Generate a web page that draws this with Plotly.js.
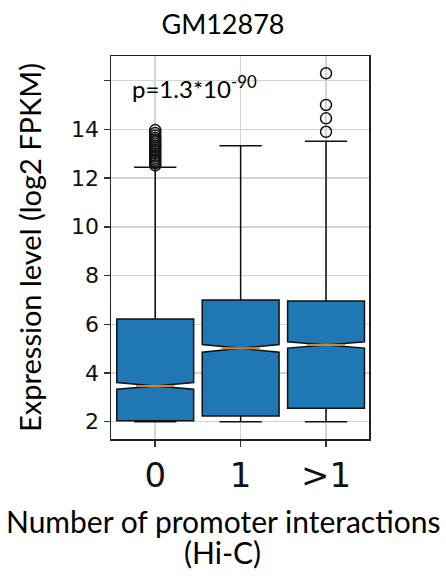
<!DOCTYPE html>
<html>
<head>
<meta charset="utf-8">
<script src="https://cdn.plot.ly/plotly-3.0.1.min.js"></script>
<style>
  html, body { margin: 0; padding: 0; background: #fff; }
  #chart { width: 446px; height: 576px; }
</style>
</head>
<body>
<div id="chart"></div>
<script>
// Expression (log2 FPKM) by number of Hi-C promoter interactions
const groups = ['0', '1', '>1'];
const groupPos = [0, 1, 2];

const q1 = [2.04, 2.23, 2.55];
const median = [3.47, 5.01, 5.15];
const q3 = [6.22, 7.00, 6.95];
const lowerWhisker = [2.0, 2.0, 2.0];
const upperWhisker = [12.44, 13.33, 13.51];
const notchHalfSpan = [0.14, 0.16, 0.13];

const outliers0 = [12.52, 12.6, 12.68, 12.75, 12.82, 12.9, 13.0, 13.08, 13.15,
                   13.25, 13.32, 13.4, 13.5, 13.58, 13.65, 13.75, 13.85, 13.97];
const outliers1 = [];
const outliers2 = [13.9, 14.45, 15.0, 16.3];

// the top tick (16) carries no label
const yTicks = [2, 4, 6, 8, 10, 12, 14, 16];
const yTickText = ['2', '4', '6', '8', '10', '12', '14', ''];

const pText = 'p=1.3*10<sup>-90</sup>';
const xTitleLines = ['Number of promoter interactions', '(Hi-C)'];

// drawing parameters
const boxWidth = 0.9;
const notchWidth = 0.5;
const titleFont = 'Lato, "Open Sans", sans-serif';
const tickFont = '"DejaVu Sans", sans-serif';
const gridColor = '#d4d4d4';

const boxes = {
  type: 'box',
  x: groupPos,
  q1: q1,
  median: median,
  q3: q3,
  lowerfence: lowerWhisker,
  upperfence: upperWhisker,
  notched: true,
  notchspan: notchHalfSpan,
  notchwidth: notchWidth,
  width: boxWidth,
  whiskerwidth: 0.55,
  fillcolor: '#1f77b4',
  line: { color: '#111111', width: 1.5 },
  boxpoints: false,
  hoverinfo: 'skip',
  showlegend: false
};

// orange median segments spanning the notch waist
const halfMed = boxWidth / 2 * (1 - notchWidth);
const medX = [], medY = [];
groupPos.forEach((p, i) => {
  medX.push(p - halfMed, p + halfMed, null);
  medY.push(median[i], median[i], null);
});
const medians = {
  type: 'scatter', mode: 'lines',
  x: medX, y: medY,
  line: { color: '#d9822b', width: 2 },
  hoverinfo: 'skip', showlegend: false
};

const outlierSets = [outliers0, outliers1, outliers2];
const ox = [], oy = [];
outlierSets.forEach((set, i) => {
  set.forEach(v => { ox.push(groupPos[i]); oy.push(v); });
});
const fliers = {
  type: 'scatter', mode: 'markers',
  x: ox, y: oy,
  marker: { symbol: 'circle-open', size: 11, color: '#111111', line: { width: 1.5 } },
  hoverinfo: 'skip', showlegend: false
};

// plot area spans 111..369 px horizontally; page centre sits at x = 0.434 in paper units
const pageCentre = 0.434;

const tickStyle = { ticks: 'outside', ticklen: 6, tickwidth: 1.5, tickcolor: '#333' };

const layout = {
  width: 446,
  height: 576,
  paper_bgcolor: '#ffffff',
  plot_bgcolor: '#ffffff',
  margin: { l: 111, r: 77, t: 56, b: 137 },
  showlegend: false,
  title: {
    text: 'GM12878',
    font: { family: titleFont, size: 27, color: '#000' },
    xref: 'paper', x: pageCentre, xanchor: 'center',
    yref: 'container', y: 0.958, yanchor: 'middle'
  },
  xaxis: Object.assign({
    range: [-0.518, 2.503],
    tickvals: groupPos,
    ticktext: groups,
    tickfont: { family: tickFont, size: 34, color: '#111' },
    showgrid: true, gridcolor: gridColor, gridwidth: 1.5,
    zeroline: false,
    showline: true, mirror: true, linecolor: '#222', linewidth: 1.5
  }, tickStyle),
  yaxis: Object.assign({
    range: [1.29, 17.01],
    tickvals: yTicks,
    ticktext: yTickText,
    tickfont: { family: tickFont, size: 22, color: '#111' },
    showgrid: true, gridcolor: gridColor, gridwidth: 1.5,
    zeroline: false,
    showline: true, mirror: true, linecolor: '#222', linewidth: 1.5,
    title: {
      text: 'Expression level (log2 FPKM)',
      font: { family: titleFont, size: 29, color: '#000' },
      standoff: 21
    }
  }, tickStyle),
  annotations: [
    {
      text: pText,
      xref: 'paper', yref: 'paper',
      x: 0.072, y: 0.92, xanchor: 'left', yanchor: 'middle',
      showarrow: false,
      font: { family: titleFont, size: 24, color: '#000' }
    },
    {
      text: xTitleLines[0],
      xref: 'paper', yref: 'paper',
      x: pageCentre, y: -0.214, xanchor: 'center', yanchor: 'middle',
      showarrow: false,
      font: { family: titleFont, size: 30, color: '#000' }
    },
    {
      text: xTitleLines[1],
      xref: 'paper', yref: 'paper',
      x: pageCentre, y: -0.294, xanchor: 'center', yanchor: 'middle',
      showarrow: false,
      font: { family: titleFont, size: 30, color: '#000' }
    }
  ]
};

Plotly.newPlot('chart', [boxes, medians, fliers], layout, { displayModeBar: false, staticPlot: true });
</script>
</body>
</html>
